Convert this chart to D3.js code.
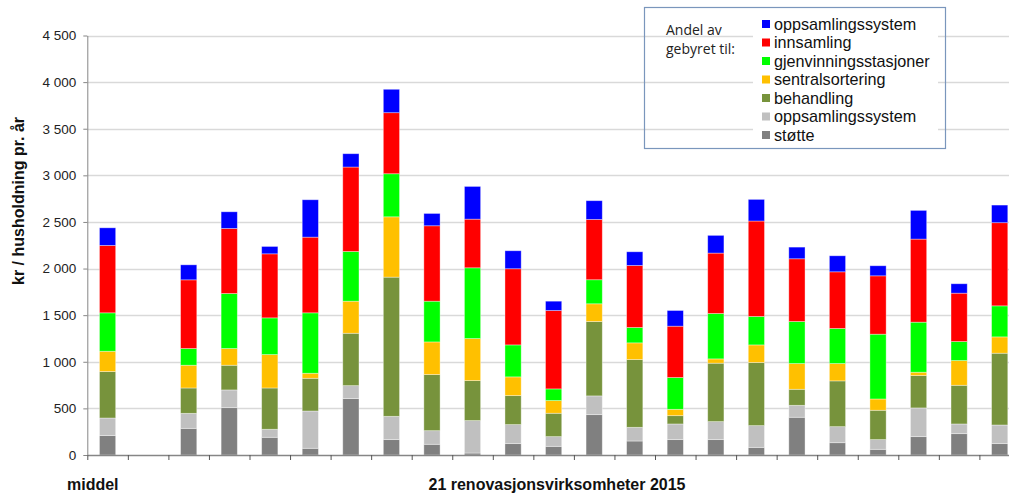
<!DOCTYPE html>
<html>
<head>
<meta charset="utf-8">
<script src="https://cdn.jsdelivr.net/npm/d3@7"></script>
<style>
  html, body { margin: 0; padding: 0; background: #fff; }
  svg { display: block; }
</style>
</head>
<body>
<svg id="chart" width="1009" height="496"></svg>
<script>
// Slots along the x axis: the average, an empty spacer, then 21 companies
const categories = ["middel", "spacer",
  "v01", "v02", "v03", "v04", "v05", "v06", "v07", "v08", "v09", "v10", "v11",
  "v12", "v13", "v14", "v15", "v16", "v17", "v18", "v19", "v20", "v21"];

// kr per household per year, one value per slot (bottom segment first)
const stotte           = [208, 0, 286, 508, 190,  72, 605,  165, 115,  21, 122,  93, 433, 150, 165, 165,   82, 405, 132,  61, 197, 229, 122];
const oppsamlingGra    = [189, 0, 161, 190,  86, 400, 139,  250, 146, 348, 204, 104, 201, 147, 168, 193,  233, 128, 172, 104, 308, 104, 200];
const behandling       = [498, 0, 272, 265, 443, 351, 562, 1493, 602, 429, 311, 251, 798, 727,  89, 627,  677, 172, 491, 315, 347, 415, 770];
const sentralsortering = [218, 0, 244, 179, 358,  54, 344,  647, 350, 451, 201, 136, 190, 179,  68,  46,  189, 276, 186, 121,  36, 265, 175];
const gjenvinning      = [412, 0, 179, 590, 394, 648, 533,  462, 437, 759, 343, 125, 258, 165, 341, 487,  305, 451, 376, 695, 537, 204, 333];
const innsamling       = [723, 0, 737, 698, 687, 812, 906,  655, 809, 522, 817, 841, 647, 665, 551, 648, 1024, 673, 608, 626, 891, 519, 892];
const oppsamlingBla    = [189, 0, 161, 179,  79, 401, 143,  251, 132, 351, 193, 100, 201, 147, 168, 190,  232, 125, 172, 108, 308, 101, 189];

// Series, bottom to top
const seriesKeys   = ["stotte", "oppsamlingGra", "behandling", "sentralsortering", "gjenvinning", "innsamling", "oppsamlingBla"];
const seriesNames  = ["støtte", "oppsamlingssystem", "behandling", "sentralsortering", "gjenvinningsstasjoner", "innsamling", "oppsamlingssystem"];
const seriesColors = ["#808080", "#c0c0c0", "#77933c", "#ffc000", "#00ff00", "#ff0000", "#0000ff"];
const seriesValues = [stotte, oppsamlingGra, behandling, sentralsortering, gjenvinning, innsamling, oppsamlingBla];

const yTicks = [0, 500, 1000, 1500, 2000, 2500, 3000, 3500, 4000, 4500];
const yTitle = "kr / husholdning pr. år";
const xLabelAverage = "middel";
const xLabelGroup = "21 renovasjonsvirksomheter 2015";
const legendHeading = ["Andel av", "gebyret til:"];

// Table for d3.stack
const rows = categories.map((c, i) => {
  const r = { cat: c };
  seriesKeys.forEach((k, j) => { r[k] = seriesValues[j][i]; });
  return r;
});

const svg = d3.select("#chart");
const plotLeft = 87.3, slotW = 40.55;
const plotRight = plotLeft + slotW * categories.length;
const plotBottom = 455, plotTop = 35.5;

const x = d3.scaleBand().domain(categories).range([plotLeft, plotRight])
  .paddingInner(0.6).paddingOuter(0.3);
const xEdge = d3.scaleLinear().domain([0, categories.length]).range([plotLeft, plotRight]);
const y = d3.scaleLinear().domain([0, 4500]).range([plotBottom, plotTop]);

const nf = d3.formatLocale({ decimal: ",", thousands: "\u00a0", grouping: [3], currency: ["", " kr"] }).format(",d");

// Horizontal gridlines
svg.append("g").selectAll("line").data(yTicks.filter(d => d > 0)).join("line")
  .attr("x1", plotLeft).attr("x2", 1009)
  .attr("y1", d => Math.round(y(d)) + 0.5).attr("y2", d => Math.round(y(d)) + 0.5)
  .attr("stroke", "#d9d9d9").attr("stroke-width", 1.3);

// Stacked bars
const stacked = d3.stack().keys(seriesKeys)(rows);
svg.append("g").selectAll("g").data(stacked).join("g")
  .attr("fill", (d, i) => seriesColors[i])
  .selectAll("rect").data(d => d.filter(s => s[1] - s[0] > 0)).join("rect")
  .attr("x", d => x(d.data.cat))
  .attr("width", x.bandwidth())
  .attr("y", d => y(d[1]))
  .attr("height", d => y(d[0]) - y(d[1]))
  .attr("stroke", "rgba(255,255,255,0.45)")
  .attr("stroke-width", 0.8);

// Y axis
const yAxis = svg.append("g").attr("transform", `translate(${plotLeft},0)`)
  .call(d3.axisLeft(y).tickValues(yTicks).tickFormat(nf).tickSize(4).tickSizeOuter(0).tickPadding(7));
yAxis.select(".domain").attr("stroke", "#868686");
yAxis.selectAll(".tick line").attr("stroke", "#868686");
yAxis.selectAll("text").attr("font-family", "Liberation Sans, Arial, sans-serif")
  .attr("font-size", 13.5).attr("fill", "#222");

// X axis: tick marks at slot boundaries
const xAxis = svg.append("g").attr("transform", `translate(0,${plotBottom})`)
  .call(d3.axisBottom(xEdge).tickValues(d3.range(categories.length + 1)).tickFormat("").tickSize(5).tickSizeOuter(0));
xAxis.select(".domain").attr("stroke", "#868686").attr("stroke-width", 1.3);
xAxis.selectAll(".tick line").attr("stroke", "#555");

// Axis titles
svg.append("text")
  .attr("transform", `translate(24,201) rotate(-90)`)
  .attr("text-anchor", "middle")
  .attr("font-family", "Liberation Sans, Arial, sans-serif")
  .attr("font-weight", "bold").attr("font-size", 16).attr("fill", "#111")
  .text(yTitle);

svg.append("text").attr("x", 67).attr("y", 490)
  .attr("font-family", "Liberation Sans, Arial, sans-serif")
  .attr("font-weight", "bold").attr("font-size", 16).attr("fill", "#111")
  .text(xLabelAverage);

svg.append("text").attr("x", 557).attr("y", 490).attr("text-anchor", "middle")
  .attr("font-family", "Liberation Sans, Arial, sans-serif")
  .attr("font-weight", "bold").attr("font-size", 16).attr("fill", "#111")
  .text(xLabelGroup);

// Legend frame
svg.append("rect").attr("x", 644.5).attr("y", 7.5).attr("width", 301).attr("height", 141)
  .attr("fill", "none").attr("stroke", "#7a96bc").attr("stroke-width", 1.2);

svg.append("g").selectAll("text").data(legendHeading).join("text")
  .attr("x", 666).attr("y", (d, i) => 35 + i * 18.5)
  .attr("font-family", "Open Sans, sans-serif").attr("font-size", 14).attr("fill", "#222")
  .text(d => d);

svg.append("rect").attr("x", 753).attr("y", 13).attr("width", 185).attr("height", 132).attr("fill", "#fff");

const legendOrder = d3.range(seriesKeys.length).reverse();
const leg = svg.append("g").selectAll("g").data(legendOrder).join("g")
  .attr("transform", (d, i) => `translate(762,${24 + i * 18.5})`);
leg.append("rect").attr("x", 0).attr("y", -4).attr("width", 8).attr("height", 8)
  .attr("fill", d => seriesColors[d]);
leg.append("text").attr("x", 12).attr("dy", "0.36em")
  .attr("font-family", "Liberation Sans, Arial, sans-serif").attr("font-size", 16.2).attr("fill", "#111")
  .text(d => seriesNames[d]);
</script>
</body>
</html>
